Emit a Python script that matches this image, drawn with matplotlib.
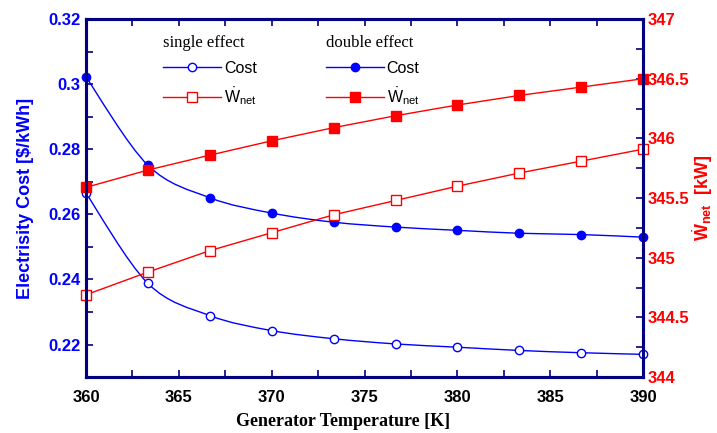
import numpy as np
import matplotlib
matplotlib.use("Agg")
import matplotlib.pyplot as plt
from matplotlib.path import Path
from matplotlib.patches import PathPatch
from matplotlib.lines import Line2D
from matplotlib.legend import Legend
from matplotlib.ticker import MultipleLocator, FormatStrFormatter

plt.rcParams['font.family'] = ['Liberation Sans', 'DejaVu Sans']
plt.rcParams['mathtext.fontset'] = 'custom'
plt.rcParams['mathtext.rm'] = 'Liberation Sans'
plt.rcParams['mathtext.bf'] = 'Liberation Sans:bold'
plt.rcParams['mathtext.it'] = 'Liberation Sans:italic'

# generator temperature [K]
temp = [360, 363.33, 366.67, 370, 373.33, 376.67, 380, 383.33, 386.67, 390]

# electricity cost [$/kWh]
cost_single = [0.2665, 0.2388, 0.2289, 0.2243, 0.2218, 0.2202, 0.2192, 0.2182, 0.2175, 0.2170]
cost_double = [0.3022, 0.2751, 0.2651, 0.2604, 0.2576, 0.2561, 0.2551, 0.2542, 0.2538, 0.2530]

# net power [kW]
wnet_single = [344.69, 344.88, 345.06, 345.21, 345.36, 345.48, 345.60, 345.71, 345.81, 345.91]
wnet_double = [345.59, 345.735, 345.86, 345.98, 346.09, 346.19, 346.28, 346.36, 346.43, 346.50]

NAVY = '#000080'
BLUE = '#0000FF'
RED = '#FF0000'


def smooth_line(ax, x, y, color):
    # catmull-rom style bezier through the data points
    x = np.asarray(x, float)
    y = np.asarray(y, float)
    verts = [(x[0], y[0])]
    codes = [Path.MOVETO]
    n = len(x)
    for i in range(n - 1):
        i0 = max(i - 1, 0)
        i3 = min(i + 2, n - 1)
        c1 = (x[i] + (x[i + 1] - x[i0]) / 6, y[i] + (y[i + 1] - y[i0]) / 6)
        c2 = (x[i + 1] - (x[i3] - x[i]) / 6, y[i + 1] - (y[i3] - y[i]) / 6)
        verts += [c1, c2, (x[i + 1], y[i + 1])]
        codes += [Path.CURVE4] * 3
    ax.add_patch(PathPatch(Path(verts, codes), fc='none', ec=color, lw=1.0, zorder=2))


fig = plt.figure(figsize=(7.17, 4.33), dpi=100)
ax = fig.add_axes([0.12, 0.129, 0.777, 0.827])
ax2 = ax.twinx()

smooth_line(ax, temp, cost_single, BLUE)
smooth_line(ax, temp, cost_double, BLUE)
ax.plot(temp, cost_single, 'o', ls='none', mfc='white', mec=BLUE, ms=6, mew=1, zorder=3, clip_on=False)
ax.plot(temp, cost_double, 'o', ls='none', mfc=BLUE, mec=BLUE, ms=6, zorder=3, clip_on=False)

ax2.plot(temp, wnet_single, '-s', color=RED, lw=1.0, mfc='white', mec=RED, ms=7.5, mew=1, clip_on=False)
ax2.plot(temp, wnet_double, '-s', color=RED, lw=1.0, mfc=RED, mec=RED, ms=7.5, clip_on=False)

ax.set_xlim(360, 390)
ax.set_ylim(0.21, 0.32)
ax2.set_ylim(344, 347)

ax.xaxis.set_major_locator(MultipleLocator(5))
ax.xaxis.set_minor_locator(MultipleLocator(2.5))
ax.yaxis.set_major_locator(MultipleLocator(0.02))
ax.yaxis.set_minor_locator(MultipleLocator(0.01))
ax.yaxis.set_major_formatter(FormatStrFormatter('%g'))
ax2.yaxis.set_major_locator(MultipleLocator(0.5))
ax2.yaxis.set_minor_locator(MultipleLocator(0.25))
ax2.yaxis.set_major_formatter(FormatStrFormatter('%g'))

for a in (ax, ax2):
    for s in a.spines.values():
        s.set_color(NAVY)
        s.set_linewidth(2.2)
    a.tick_params(which='both', direction='in', color=NAVY, width=1.2, length=5)

ax.tick_params(axis='x', which='both', top=True, pad=9)
ax.tick_params(axis='x', labelsize=12)
ax.tick_params(axis='y', which='both', right=False, labelcolor=BLUE, labelsize=12, pad=4)
ax2.tick_params(axis='y', which='both', left=False, labelcolor=RED, labelsize=12, pad=3)
for lab in ax.get_xticklabels() + ax.get_yticklabels() + ax2.get_yticklabels():
    lab.set_fontweight('bold')

ax.set_xlabel('Generator Temperature [K]', family='Liberation Serif', fontweight='bold',
              fontsize=13, labelpad=6)
ax.xaxis.set_label_coords(0.461, -0.1)
ax.set_ylabel('Electrisity Cost [$/kWh]', color=BLUE, fontweight='bold', fontsize=13, labelpad=10)
ax2.set_ylabel(r'$\dot{\mathbf{W}}_{\mathbf{net}}$  [kW]', color=RED, fontweight='bold',
               fontsize=13, labelpad=1)

wlab = r'$\dot{\mathrm{W}}_{\mathrm{net}}$'
h_single = [Line2D([], [], color=BLUE, lw=1, marker='o', mfc='white', mec=BLUE, ms=6),
            Line2D([], [], color=RED, lw=1, marker='s', mfc='white', mec=RED, ms=7.5)]
h_double = [Line2D([], [], color=BLUE, lw=1, marker='o', mfc=BLUE, mec=BLUE, ms=6),
            Line2D([], [], color=RED, lw=1, marker='s', mfc=RED, mec=RED, ms=7.5)]

for handles, title, xpos in [(h_single, 'single effect', 0.113), (h_double, 'double effect', 0.405)]:
    leg = Legend(ax2, handles, ['Cost', wlab], loc='upper left', bbox_to_anchor=(xpos, 0.995),
                 frameon=False, fontsize=11.5, handlelength=3.6, handletextpad=0.2,
                 labelspacing=0.6, title=title, alignment='left',
                 title_fontproperties={'family': 'Liberation Serif', 'size': 12})
    ax2.add_artist(leg)

fig.savefig('out.png', dpi=100)
